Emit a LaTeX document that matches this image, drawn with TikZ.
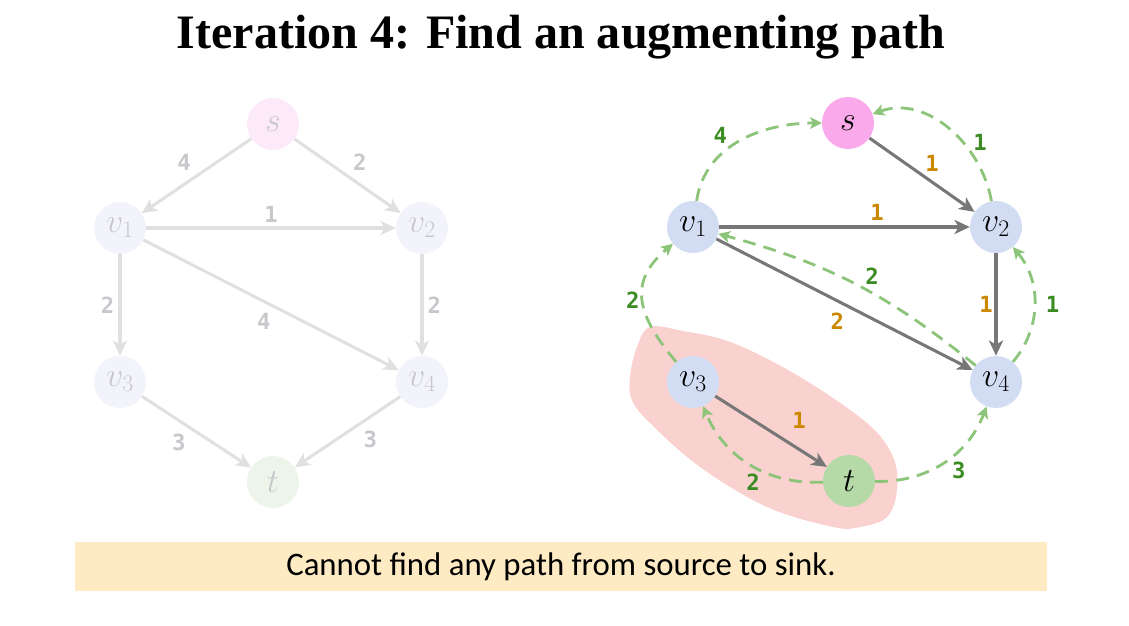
\RequirePackage{fix-cm}
\documentclass[tikz,border=0pt]{standalone}
\usepackage{fontspec}
\setmainfont{Liberation Serif}
\newfontfamily\notefont{Carlito}
\newfontfamily\wfont{DejaVu Sans Mono}
\usetikzlibrary{arrows.meta}
\definecolor{FadeSrc}{RGB}{252,234,248}
\definecolor{FadeV}{RGB}{243,244,251}
\definecolor{FadeSnk}{RGB}{237,245,234}
\definecolor{FadeLine}{RGB}{224,224,224}
\definecolor{FadeTxt}{RGB}{200,200,204}
\definecolor{SrcClr}{RGB}{250,170,235}
\definecolor{VClr}{RGB}{210,221,243}
\definecolor{SnkClr}{RGB}{181,217,167}
\definecolor{EdgeClr}{RGB}{119,119,119}
\definecolor{CapClr}{RGB}{204,136,0}
\definecolor{ResClr}{RGB}{140,196,122}
\definecolor{ResTxt}{RGB}{59,140,34}
\definecolor{CutClr}{RGB}{249,210,207}
\definecolor{NoteClr}{RGB}{254,235,195}

\begin{document}
\begin{tikzpicture}[x=0.03cm,y=-0.03cm,
  vtx/.style={circle,minimum size=1.56cm,inner sep=0pt,font=\fontsize{29}{32}\selectfont},
  fvtx/.style={vtx,fill=FadeV,text=FadeTxt},
  wnum/.style={font=\wfont\bfseries\fontsize{19}{21}\selectfont,inner sep=1.5pt},
  fedge/.style={draw=FadeLine,line width=2.6pt,-{Stealth[length=13pt,width=12pt,inset=3.5pt]}},
  flbl/.style={wnum,text=FadeTxt,inner sep=3.5pt},
  cedge/.style={draw=EdgeClr,line width=2.6pt,-{Stealth[length=13pt,width=12pt,inset=3.5pt]}},
  clbl/.style={wnum,text=CapClr},
  redge/.style={draw=ResClr,line width=2.4pt,dash pattern=on 11pt off 7pt,-{Stealth[length=10pt,width=10pt,inset=2.5pt]}},
  rlbl/.style={wnum,text=ResTxt}]
\useasboundingbox (0,0) rectangle (1129,626);

% title
\node (title) at (561,37) {\fontsize{41}{46}\selectfont\bfseries Iteration 4: Find an augmenting path};

% original network (faded)
\node[fvtx,fill=FadeSrc] (ls) at (273,124) {$s$};
\node[fvtx] (lv1) at (120,228) {$v_1$};
\node[fvtx] (lv2) at (422,228) {$v_2$};
\node[fvtx] (lv3) at (120,382) {$v_3$};
\node[fvtx] (lv4) at (422,382) {$v_4$};
\node[fvtx,fill=FadeSnk] (lt) at (273,482) {$t$};

\draw[fedge] (ls) -- node[flbl,above left] {4} (lv1);
\draw[fedge] (ls) -- node[flbl,above right] {2} (lv2);
\draw[fedge] (lv1) -- node[flbl,above] {1} (lv2);
\draw[fedge] (lv1) -- node[flbl,left] {2} (lv3);
\draw[fedge] (lv1) -- node[flbl,below left,pos=0.52] {4} (lv4);
\draw[fedge] (lv2) -- node[flbl,right] {2} (lv4);
\draw[fedge] (lv3) -- node[flbl,below left,pos=0.45] {3} (lt);
\draw[fedge] (lv4) -- node[flbl,below right,pos=0.4] {3} (lt);

% residual network
\fill[CutClr] plot[smooth cycle,tension=0.6] coordinates {(650,327) (683,331) (733,343) (800,377)
  (867,423) (893,457) (897,490) (887,517) (860,527) (833,527) (767,507) (700,467) (650,423)
  (632,400) (630,377) (637,347)};

\node[vtx,fill=SrcClr] (s) at (848,123) {$s$};
\node[vtx,fill=VClr] (v1) at (693,227) {$v_1$};
\node[vtx,fill=VClr] (v2) at (996,227) {$v_2$};
\node[vtx,fill=VClr] (v3) at (693,382) {$v_3$};
\node[vtx,fill=VClr] (v4) at (996,382) {$v_4$};
\node[vtx,fill=SnkClr] (t) at (849,481) {$t$};

\draw[cedge] (s) -- node[clbl,above right] {1} (v2);
\draw[cedge] (v1) -- node[clbl,above=3pt,pos=0.63] {1} (v2);
\draw[cedge] (v1) -- node[clbl,below left=2pt,pos=0.52] {2} (v4);
\draw[cedge] (v2) -- node[clbl,left] {1} (v4);
\draw[cedge] (v3) -- node[clbl,above right=6pt,pos=0.6] {1} (t);

\draw[redge] (v1) to[out=82,in=180] node[rlbl,above left,pos=0.42] {4} (s);
\draw[redge] (v2) to[out=100,in=20] node[rlbl,right=6pt,pos=0.38] {1} (s);
\draw[redge] (v4) to[bend right=12] node[rlbl,above right,pos=0.47] {2} (v1);
\draw[redge] (v4) to[bend right=40] node[rlbl,right,xshift=7pt] {1} (v2);
\draw[redge] (v3) to[out=130,in=220,looseness=1.3] node[rlbl,left] {2} (v1);
\draw[redge] (t) to[bend left=35] node[rlbl,below left,pos=0.4] {2} (v3);
\draw[redge] (t) to[bend right=35] node[rlbl,below right,pos=0.55] {3} (v4);

% note
\fill[NoteClr] (75,542) rectangle (1047,591);
\node (note) at (561,566.5) {\notefont\fontsize{28}{32}\selectfont Cannot find any path from source to sink.};
\end{tikzpicture}
\end{document}
